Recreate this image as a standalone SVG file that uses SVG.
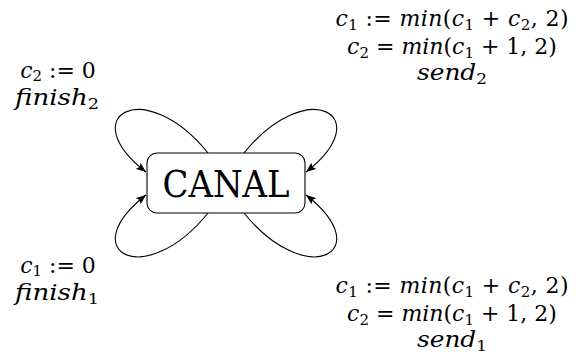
<svg xmlns="http://www.w3.org/2000/svg" width="576" height="363" viewBox="0 0 576 363">
<style>
text{font-family:'DejaVu Serif','Liberation Serif',serif;font-size:22px;fill:#000}
.i{font-style:italic}
.s{font-size:15px}
.e{fill:none;stroke:#000;stroke-width:1.1}
</style>
<defs>
<marker id="ah" viewBox="0 0 10 8" refX="10" refY="4" markerWidth="10" markerHeight="8" markerUnits="userSpaceOnUse" orient="auto"><path d="M0,0 L10,4 L0,8 L2,4 Z" fill="#000"/></marker>
</defs>
<rect width="576" height="363" fill="#fff"/>
<g id="connectors">
<path class="e" d="M208,153 C145,75 73,115 146,172" marker-end="url(#ah)"/>
<path class="e" d="M244,153 C307,75 379,115 306,172" marker-end="url(#ah)"/>
<path class="e" d="M208,213 C145,291 73,252 146,195" marker-end="url(#ah)"/>
<path class="e" d="M244,213 C307,291 379,252 306,195" marker-end="url(#ah)"/>
</g>
<g id="canal">
<rect x="147" y="153" width="158" height="60" rx="10" fill="#fff" stroke="#000" stroke-width="1.1"/>
<text x="226" y="197" text-anchor="middle" style="font-size:38px" textLength="127" lengthAdjust="spacingAndGlyphs">CANAL</text>
</g>
<g id="label-send2">
<text x="452" y="26" text-anchor="middle" textLength="233" lengthAdjust="spacing"><tspan class="i">c</tspan><tspan class="s" dy="4">1</tspan><tspan dy="-4"> := </tspan><tspan class="i">min</tspan>(<tspan class="i">c</tspan><tspan class="s" dy="4">1</tspan><tspan dy="-4"> + </tspan><tspan class="i">c</tspan><tspan class="s" dy="4">2</tspan><tspan dy="-4">, 2)</tspan></text>
<text x="452" y="54" text-anchor="middle"><tspan class="i">c</tspan><tspan class="s" dy="4">2</tspan><tspan dy="-4"> = </tspan><tspan class="i">min</tspan>(<tspan class="i">c</tspan><tspan class="s" dy="4">1</tspan><tspan dy="-4"> + 1, 2)</tspan></text>
<text x="452" y="80" text-anchor="middle" textLength="70" lengthAdjust="spacingAndGlyphs"><tspan class="i">send</tspan><tspan class="s" dy="4">2</tspan></text>
</g>
<g id="label-send1">
<text x="452" y="293" text-anchor="middle" textLength="233" lengthAdjust="spacing"><tspan class="i">c</tspan><tspan class="s" dy="4">1</tspan><tspan dy="-4"> := </tspan><tspan class="i">min</tspan>(<tspan class="i">c</tspan><tspan class="s" dy="4">1</tspan><tspan dy="-4"> + </tspan><tspan class="i">c</tspan><tspan class="s" dy="4">2</tspan><tspan dy="-4">, 2)</tspan></text>
<text x="452" y="321" text-anchor="middle"><tspan class="i">c</tspan><tspan class="s" dy="4">2</tspan><tspan dy="-4"> = </tspan><tspan class="i">min</tspan>(<tspan class="i">c</tspan><tspan class="s" dy="4">1</tspan><tspan dy="-4"> + 1, 2)</tspan></text>
<text x="452" y="347" text-anchor="middle" textLength="70" lengthAdjust="spacingAndGlyphs"><tspan class="i">send</tspan><tspan class="s" dy="4">1</tspan></text>
</g>
<g id="label-finish2">
<text x="58" y="78" text-anchor="middle"><tspan class="i">c</tspan><tspan class="s" dy="3">2</tspan><tspan dy="-3"> := 0</tspan></text>
<text x="57" y="105" text-anchor="middle" textLength="84" lengthAdjust="spacingAndGlyphs"><tspan class="i">finish</tspan><tspan class="s" dy="4">2</tspan></text>
</g>
<g id="label-finish1">
<text x="58" y="273" text-anchor="middle"><tspan class="i">c</tspan><tspan class="s" dy="3">1</tspan><tspan dy="-3"> := 0</tspan></text>
<text x="57" y="300" text-anchor="middle" textLength="84" lengthAdjust="spacingAndGlyphs"><tspan class="i">finish</tspan><tspan class="s" dy="4">1</tspan></text>
</g>
</svg>
